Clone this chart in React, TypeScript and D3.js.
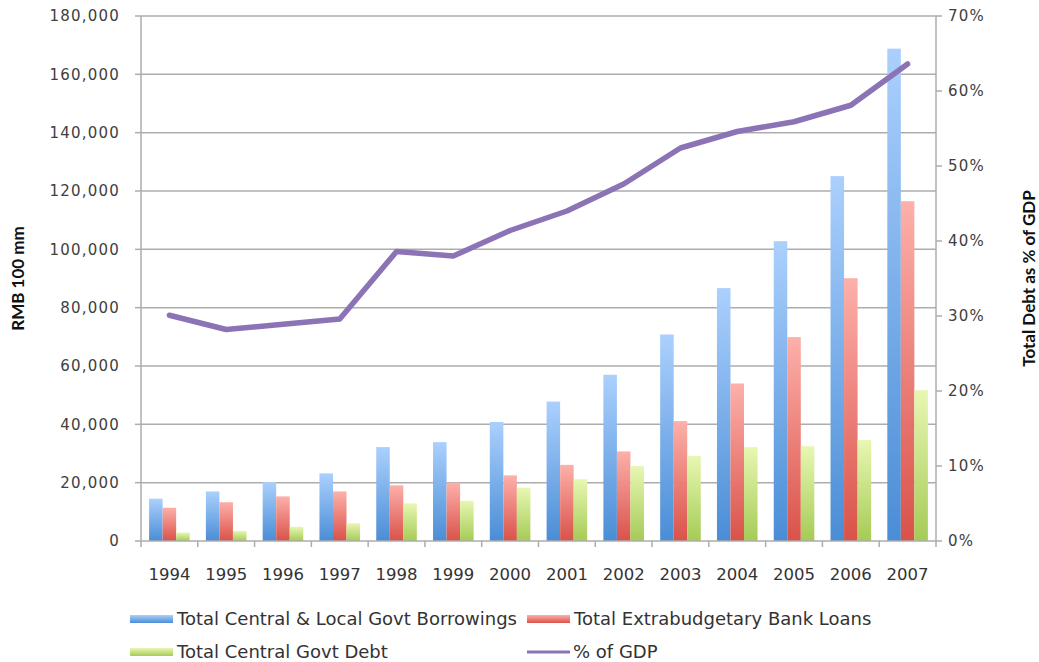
import React from 'react';
import * as d3 from 'd3';

const years = ['1994', '1995', '1996', '1997', '1998', '1999', '2000', '2001', '2002', '2003', '2004', '2005', '2006', '2007'];
const borrowings = [14500, 17000, 20200, 23200, 32200, 33900, 40800, 47800, 57000, 70800, 86700, 102800, 125100, 168800];
const bankLoans = [11400, 13300, 15300, 17000, 19100, 20000, 22500, 26100, 30700, 41100, 54000, 69900, 90100, 116500];
const centralDebt = [2900, 3500, 4900, 6100, 12900, 13800, 18300, 21200, 25700, 29200, 32200, 32500, 34600, 51700];
const pctGDP = [30.1, 28.2, 28.9, 29.6, 38.6, 38.0, 41.4, 44.0, 47.6, 52.4, 54.6, 55.9, 58.1, 63.6];
const leftTicks = [0, 20000, 40000, 60000, 80000, 100000, 120000, 140000, 160000, 180000];
const rightTicks = [0, 10, 20, 30, 40, 50, 60, 70];
const seriesNames = ['Total Central & Local Govt Borrowings', 'Total Extrabudgetary Bank Loans', 'Total Central Govt Debt', '% of GDP'];

const W = 1039, H = 662;
const L = 141, R = 936, T = 16, B = 541;

const barSeries = [
  { key: 'b', name: seriesNames[0], values: borrowings, top: '#abd0fd', bottom: '#4a8dd6' },
  { key: 'r', name: seriesNames[1], values: bankLoans, top: '#fdb0aa', bottom: '#d95249' },
  { key: 'g', name: seriesNames[2], values: centralDebt, top: '#e8f7b2', bottom: '#a5cb56' },
];
const lineColor = '#8c73b5';

export default function App() {
  const x = d3.scaleBand<string>().domain(years).range([L, R]).paddingInner(0).paddingOuter(0);
  const bw = x.bandwidth();
  const sub = d3.scaleBand<string>().domain(barSeries.map(s => s.key)).range([8.1, bw - 8.1]);
  const y = d3.scaleLinear().domain([0, 180000]).range([B, T]);
  const y2 = d3.scaleLinear().domain([0, 70]).range([B, T]);
  const line = d3.line<number>().x((_, i) => (x(years[i]) as number) + bw / 2).y(d => y2(d));
  const fmt = d3.format(',');
  const tickFont = '"DejaVu Sans", Verdana, sans-serif';
  const textFont = 'Lato, "Open Sans", sans-serif';
  const grey = '#404040';
  const axisGrey = '#adadad';

  return (
    <svg width={W} height={H} style={{ position: 'absolute', left: 0, top: 0, background: '#fff' }}>
      <defs>
        {barSeries.map(s => (
          <linearGradient key={s.key} id={'grad-' + s.key} x1="0" y1="0" x2="0" y2="1">
            <stop offset="0%" stopColor={s.top} />
            <stop offset="100%" stopColor={s.bottom} />
          </linearGradient>
        ))}
      </defs>
      {/* gridlines */}
      {leftTicks.slice(1).map(t => (
        <line key={'g' + t} x1={L} x2={R} y1={y(t)} y2={y(t)} stroke={axisGrey} strokeWidth={1.5} />
      ))}
      {/* bars */}
      {barSeries.map(s => (
        <g key={s.key} fill={`url(#grad-${s.key})`}>
          {s.values.map((v, i) => (
            <rect key={i} x={(x(years[i]) as number) + (sub(s.key) as number)} y={y(v)} width={sub.bandwidth()} height={B - y(v)} />
          ))}
        </g>
      ))}
      {/* line */}
      <path d={line(pctGDP) || ''} fill="none" stroke={lineColor} strokeWidth={5.5} strokeLinejoin="round" strokeLinecap="round" />
      {/* left axis */}
      <line x1={L} x2={L} y1={T} y2={B} stroke={axisGrey} strokeWidth={1.5} />
      {leftTicks.map(t => (
        <g key={'l' + t}>
          <line x1={L - 6} x2={L} y1={y(t)} y2={y(t)} stroke={axisGrey} strokeWidth={1.5} />
          <text x={120} y={y(t)} dy="0.36em" textAnchor="end" fontFamily={tickFont} fontSize={15} letterSpacing={1.2} fill={grey}>{fmt(t)}</text>
        </g>
      ))}
      {/* right axis */}
      <line x1={R} x2={R} y1={T} y2={B} stroke={axisGrey} strokeWidth={1.5} />
      {rightTicks.map(t => (
        <g key={'r' + t}>
          <line x1={R} x2={R + 6} y1={y2(t)} y2={y2(t)} stroke={axisGrey} strokeWidth={1.5} />
          <text x={948} y={y2(t)} dy="0.36em" textAnchor="start" fontFamily={tickFont} fontSize={15} letterSpacing={1.2} fill={grey}>{t + '%'}</text>
        </g>
      ))}
      {/* bottom axis */}
      <line x1={L} x2={R} y1={B} y2={B} stroke={axisGrey} strokeWidth={1.5} />
      {years.map(yr => (
        <g key={yr}>
          <line x1={(x(yr) as number)} x2={(x(yr) as number)} y1={B} y2={B + 6} stroke={axisGrey} strokeWidth={1.5} />
          <text x={(x(yr) as number) + bw / 2} y={580} textAnchor="middle" fontFamily={tickFont} fontSize={16.5} fill="#333">{yr}</text>
        </g>
      ))}
      <line x1={R} x2={R} y1={B} y2={B + 6} stroke={axisGrey} strokeWidth={1.5} />
      {/* axis titles */}
      <text transform={`translate(24,${(T + B) / 2}) rotate(-90)`} textAnchor="middle" fontFamily={textFont} fontWeight="bold" fontSize={17} fill="#111">RMB 100 mm</text>
      <text transform={`translate(1035,${(T + B) / 2}) rotate(-90)`} textAnchor="middle" fontFamily={textFont} fontWeight="bold" fontSize={17} fill="#111">Total Debt as % of GDP</text>
      {/* legend */}
      {[
        { s: barSeries[0], x: 130, y: 619 },
        { s: barSeries[1], x: 527, y: 619 },
        { s: barSeries[2], x: 130, y: 652 },
      ].map(({ s, x: lx, y: ly }) => (
        <g key={'leg' + s.key}>
          <rect x={lx} y={ly - 4} width={43} height={8} fill={`url(#grad-${s.key})`} />
          <text x={lx + 47} y={ly} dy="0.36em" fontFamily={tickFont} fontSize={18} fill="#333">{s.name}</text>
        </g>
      ))}
      <line x1={527} x2={570} y1={652} y2={652} stroke={lineColor} strokeWidth={3} />
      <text x={573} y={652} dy="0.36em" fontFamily={tickFont} fontSize={18} fill="#333">{seriesNames[3]}</text>
    </svg>
  );
}
